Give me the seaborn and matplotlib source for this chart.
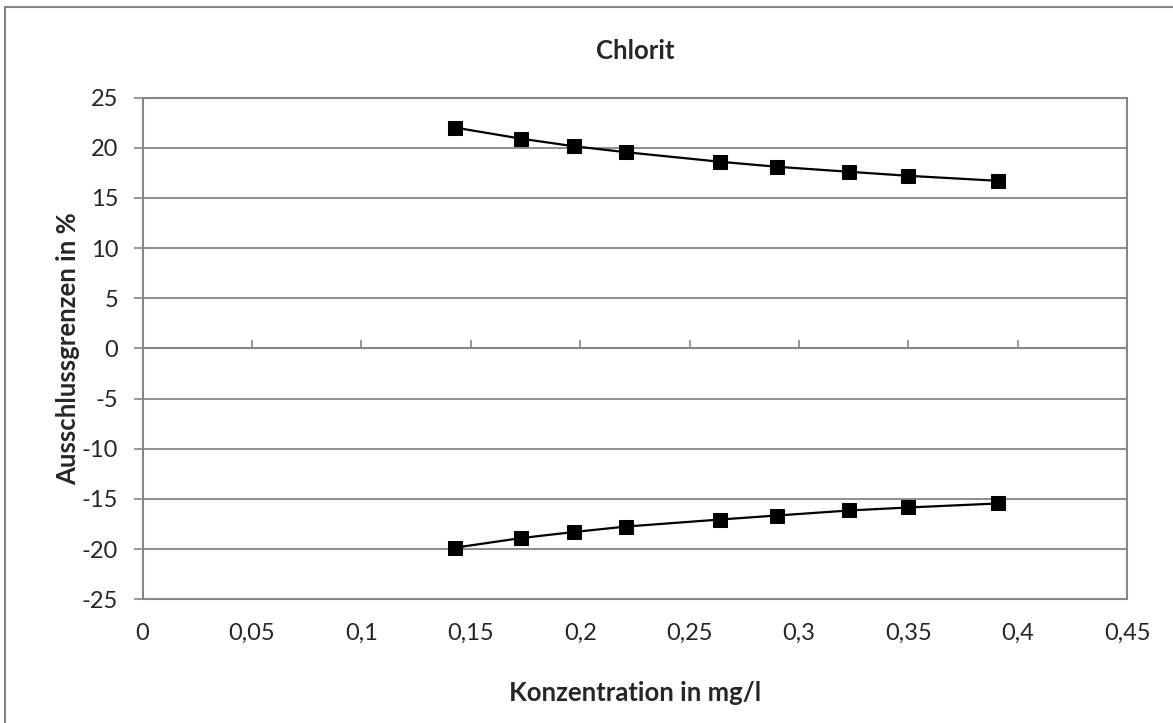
import pandas as pd
import matplotlib
matplotlib.use("Agg")
import matplotlib.pyplot as plt
import seaborn as sns
from matplotlib.lines import Line2D

# data
konz = [0.143, 0.173, 0.197, 0.221, 0.264, 0.290, 0.323, 0.350, 0.391]
obere_grenze = [22.0, 20.9, 20.15, 19.55, 18.6, 18.1, 17.6, 17.2, 16.7]
untere_grenze = [-19.85, -18.9, -18.3, -17.75, -17.05, -16.65, -16.15, -15.85, -15.45]
x_ticks = [0, 0.05, 0.1, 0.15, 0.2, 0.25, 0.3, 0.35, 0.4, 0.45]
y_ticks = list(range(-25, 30, 5))

df = pd.DataFrame({
    "Konzentration": konz * 2,
    "Grenze": obere_grenze + untere_grenze,
    "Reihe": ["oben"] * len(konz) + ["unten"] * len(konz),
})

sns.set_style("white")
plt.rcParams['font.family'] = ['Lato', 'DejaVu Sans']
grey = "#868686"

fig = plt.figure(figsize=(11.73, 7.23), dpi=100)
ax = fig.add_axes([0.1215, 0.1711, 0.8394, 0.694])

sns.lineplot(data=df, x="Konzentration", y="Grenze", units="Reihe", estimator=None,
             color="black", linewidth=1.6, marker="s", markersize=10.5,
             markeredgecolor="black", ax=ax, legend=False)

ax.set_xlim(0, 0.45)
ax.set_ylim(-25, 25)
ax.set_xticks(x_ticks)
ax.set_xticklabels([("%g" % v).replace(".", ",") for v in x_ticks])
ax.set_yticks(y_ticks)
ax.set_yticklabels([str(v) for v in y_ticks])
ax.yaxis.grid(True, color=grey, linewidth=1.3)
ax.set_axisbelow(True)
for s in ax.spines.values():
    s.set_color(grey)
    s.set_linewidth(1.5)

ax.tick_params(axis="y", direction="out", length=6.5, width=1.2, color=grey,
               labelsize=17, pad=11, left=True)
ax.tick_params(axis="x", length=0, labelsize=17, pad=17)

# horizontal axis crosses at 0 with tick marks
ax.axhline(0, color=grey, linewidth=1.5, zorder=1)
sec = ax.secondary_xaxis(0.5)
sec.set_xticks(x_ticks)
sec.tick_params(axis="x", direction="out", length=6, width=1.2, color=grey,
                labelbottom=False, labeltop=False)
sec.spines["bottom"].set_visible(False)
sec.spines["top"].set_visible(False)

ax.set_xlabel("Konzentration in mg/l", fontsize=18.5, fontweight="bold", labelpad=27)
ax.set_ylabel("Ausschlussgrenzen in %", fontsize=18.5, fontweight="bold", labelpad=1)
ax.set_title("Chlorit", fontsize=18.5, fontweight="bold", pad=28)

# outer chart frame (top and left edge visible)
fig.add_artist(Line2D([5 / 1173, 5 / 1173], [0, 1 - 7 / 723], transform=fig.transFigure,
                      color=grey, linewidth=1.5))
fig.add_artist(Line2D([5 / 1173, 1], [1 - 7 / 723, 1 - 7 / 723], transform=fig.transFigure,
                      color=grey, linewidth=1.5))

fig.savefig("out.png", dpi=100)
